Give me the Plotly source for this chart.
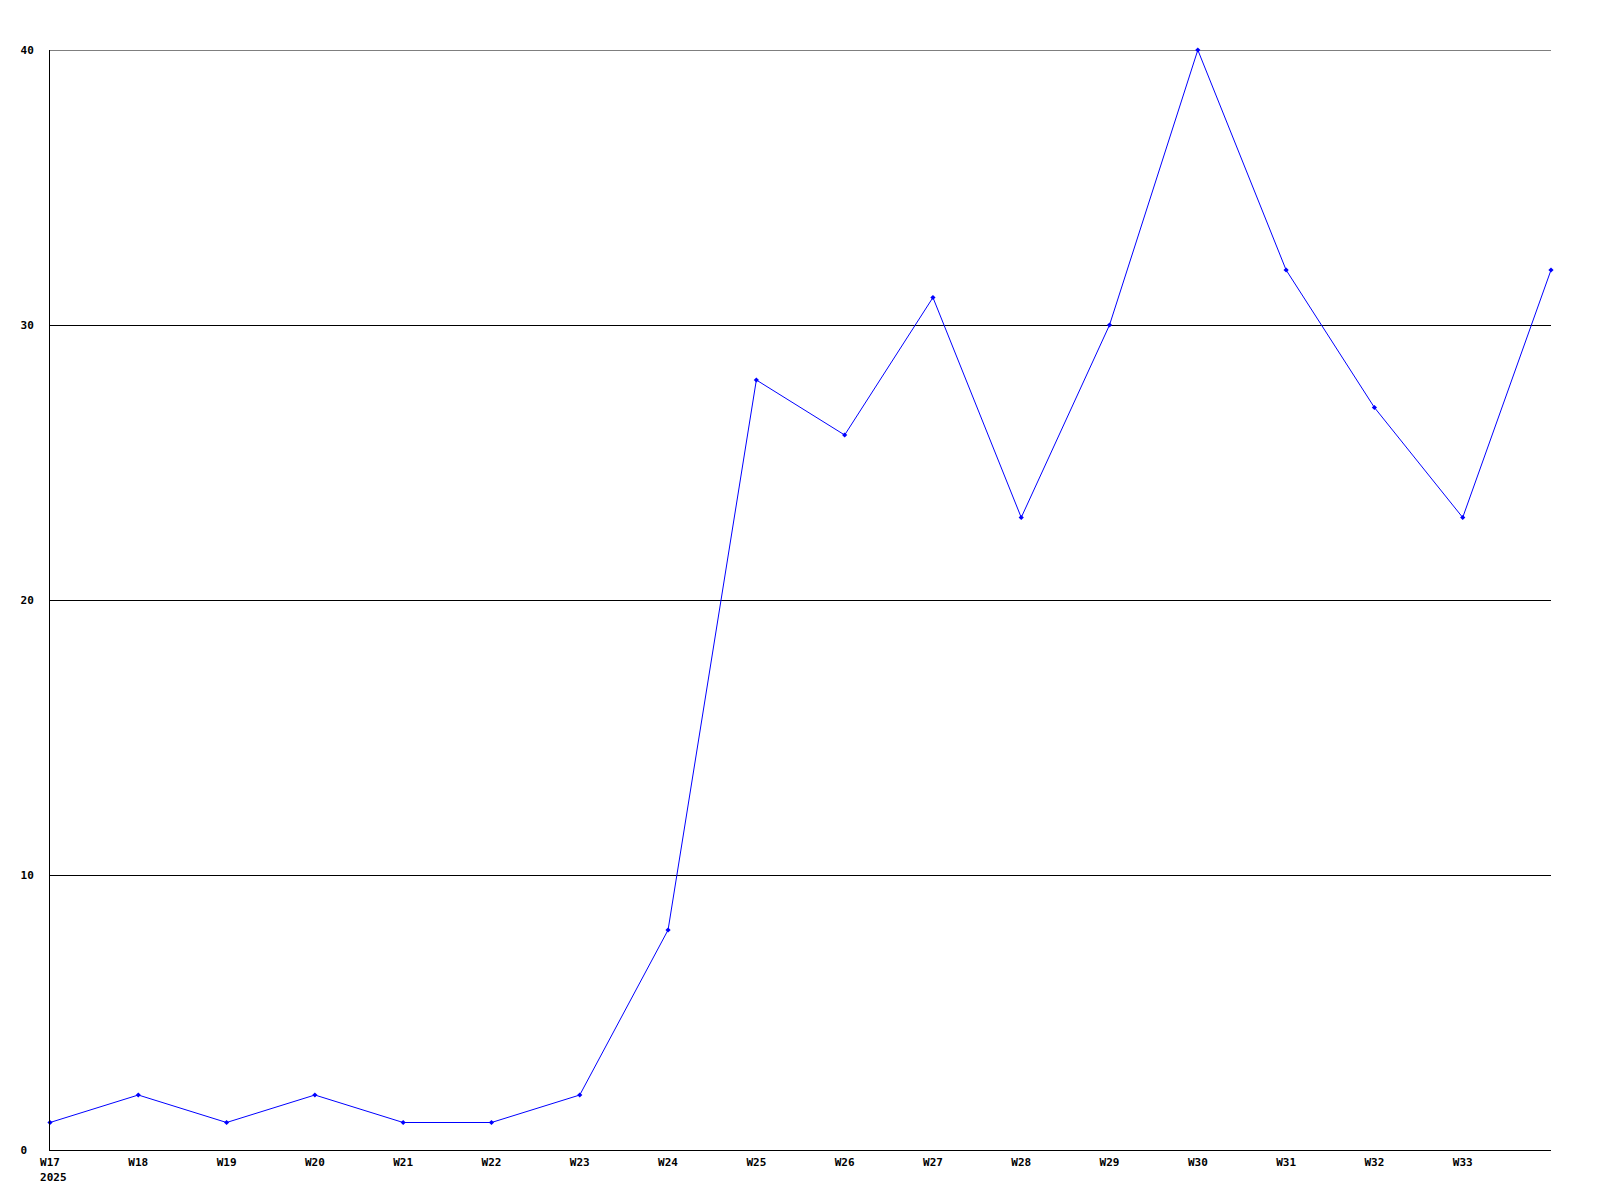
import plotly.graph_objects as go

weeks = ["W17", "W18", "W19", "W20", "W21", "W22", "W23", "W24", "W25",
         "W26", "W27", "W28", "W29", "W30", "W31", "W32", "W33", "W34"]
values = [1, 2, 1, 2, 1, 1, 2, 8, 28, 26, 31, 23, 30, 40, 32, 27, 23, 32]
tick_labels = ["W17<br>&nbsp;2025"] + weeks[1:17]
y_ticks = [0, 10, 20, 30, 40]
y_tick_labels = ["0&nbsp;", "10", "20", "30", "40"]

x = list(range(len(weeks)))

fig = go.Figure()
fig.add_trace(go.Scatter(
    x=x, y=values, mode="lines+markers",
    line=dict(color="#0000FF", width=1),
    marker=dict(symbol="diamond", size=4, color="#0000FF"),
    cliponaxis=False, showlegend=False,
))

# top gridline at the maximum tick (plotly omits gridlines at the range edge)
fig.add_shape(type="line", xref="paper", x0=0, x1=1, yref="y",
              y0=y_ticks[-1], y1=y_ticks[-1],
              line=dict(color="black", width=1), layer="below")

font = dict(family="DejaVu Sans Mono", size=11, color="black", weight="bold")

fig.update_layout(
    width=1592, height=1192,
    margin=dict(l=42, r=49, t=42, b=50),
    paper_bgcolor="white", plot_bgcolor="white",
    font=font,
    xaxis=dict(
        range=[0, 17], tickvals=x[:17], ticktext=tick_labels,
        showgrid=False, zeroline=False, showline=True, linecolor="black",
        linewidth=1, ticks="", tickfont=font, ticklabelstandoff=2,
        automargin=False,
    ),
    yaxis=dict(
        range=[0, 40], tickvals=y_ticks, ticktext=y_tick_labels,
        showgrid=True, gridcolor="black",
        gridwidth=1, zeroline=False, showline=True, linecolor="black",
        linewidth=1, ticks="", tickfont=font, ticklabelstandoff=13,
        automargin=False,
    ),
)

fig.write_html("out.html")
